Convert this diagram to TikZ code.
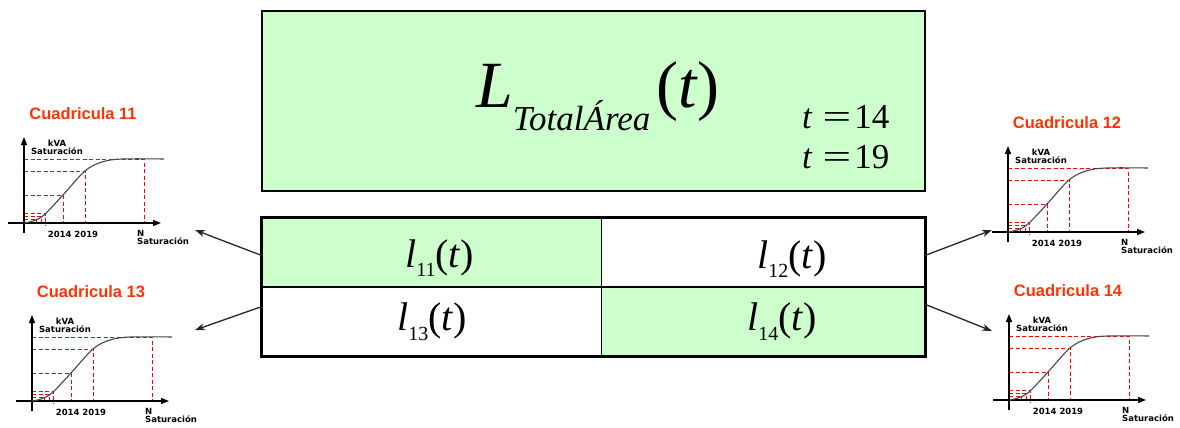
\documentclass[tikz,border=0pt]{standalone}
\usepackage{fontspec}
\usepackage{graphicx}
\setmainfont{Liberation Serif}
\newfontfamily\titlefont{Liberation Sans}
\newfontfamily\chartfont{DejaVu Sans}
\usetikzlibrary{arrows.meta}
\definecolor{cellgreen} {RGB}{204, 255, 204}
\definecolor{titlered}  {RGB}{255, 51,  0}
\definecolor{satred}    {RGB}{255, 0,   0}
\definecolor{curvegray} {RGB}{70,  70,  70}

\begin{document}
\begin{tikzpicture}[
  x=1pt, y=-1pt,
  >=Stealth,
  cell/.style={draw, line width=0.8pt, inner sep=0pt, minimum height=69pt},
  link/.style={-{Stealth[length=10pt, width=7pt]}, line width=1.3pt, black!85},
  axis/.style={-{Triangle[length=8pt, width=6pt]}, line width=1.4pt},
  satline/.style={draw=satred, line width=1pt, dash pattern=on 4pt off 2.5pt},
  curve/.style={curvegray, line width=1.1pt},
  charttitle/.style={text=titlered, inner sep=0pt,
    font={\titlefont\bfseries\fontsize{16.5}{16.5}\selectfont}},
  chartlabel/.style={inner sep=0pt, align=center,
    font={\chartfont\bfseries\fontsize{8.5}{8}\selectfont}},
]

%% ─── 座標 ───────────────────────────────────────────────
%%  1 unidad = 1 px, y hacia abajo, lienzo 1180 x 428
\useasboundingbox (0,0) rectangle (1180,428);

% ── Caja superior: L_{TotalÁrea}(t) ──────────────────────
\node[draw, line width=2.5pt, fill=cellgreen, inner sep=0pt,
  minimum width=663pt, minimum height=180pt] (total) at (593.5,101) {};
\node[anchor=base west, inner sep=0pt] (ltotal) at (476,107)
  {{\fontsize{66}{66}\selectfont\itshape L}%
   \raisebox{-23pt}{\fontsize{35}{35}\selectfont\itshape TotalÁrea}%
   \hspace{6pt}{\fontsize{66}{66}\selectfont(\textit{t})}};
\node[anchor=base west, inner sep=0pt, font=\fontsize{35}{35}\selectfont]
  (t14) at (802,128) {\textit{t}\hspace{10pt}\scalebox{1.45}[1]{=}\hspace{3pt}14};
\node[anchor=base west, inner sep=0pt, font=\fontsize{35}{35}\selectfont]
  (t19) at (802,168) {\textit{t}\hspace{10pt}\scalebox{1.45}[1]{=}\hspace{3pt}19};

% ── Tabla de cuadriculas ──────────────────────────────────
\node[cell, fill=cellgreen, minimum width=339pt] (c11) at (431.5,252.5) {};
\node[cell, fill=white,     minimum width=324pt] (c12) at (763,252.5)   {};
\node[cell, fill=white,     minimum width=339pt] (c13) at (431.5,321.5) {};
\node[cell, fill=cellgreen, minimum width=324pt] (c14) at (763,321.5)   {};
\draw[line width=2pt] (c11.south west) -- (c12.south east);
\draw[line width=2.5pt] (c11.north west) rectangle (c14.south east);

\node[anchor=base west, inner sep=0pt] (l11) at (405,267)
  {{\fontsize{40}{40}\selectfont\itshape l}\raisebox{-9pt}{\fontsize{20}{20}\selectfont 11}{\fontsize{40}{40}\selectfont(\textit{t})}};
\node[anchor=base west, inner sep=0pt] (l12) at (757,268)
  {{\fontsize{40}{40}\selectfont\itshape l}\raisebox{-9pt}{\fontsize{20}{20}\selectfont 12}{\fontsize{40}{40}\selectfont(\textit{t})}};
\node[anchor=base west, inner sep=0pt] (l13) at (397,330)
  {{\fontsize{40}{40}\selectfont\itshape l}\raisebox{-10pt}{\fontsize{20}{20}\selectfont 13}{\fontsize{40}{40}\selectfont(\textit{t})}};
\node[anchor=base west, inner sep=0pt] (l14) at (747,330)
  {{\fontsize{40}{40}\selectfont\itshape l}\raisebox{-10pt}{\fontsize{20}{20}\selectfont 14}{\fontsize{40}{40}\selectfont(\textit{t})}};

% ── Flechas hacia las curvas ──────────────────────────────
\coordinate (tip11) at (195,230);
\coordinate (tip13) at (195,330);
\coordinate (tip12) at (992,230);
\coordinate (tip14) at (992,331);
\draw[link] (c11.181) -- (tip11);
\draw[link] (c13.175) -- (tip13);
\draw[link] (c12.359) -- (tip12);
\draw[link] (c14.6)   -- (tip14);

% ── Curvas de saturación (una por cuadricula) ────────────
\foreach \ox/\oy/\num in {24/223/11, 1008/232/12, 32/401/13, 1009/400/14}{
  \begin{scope}[shift={(\ox,\oy)}]
    % líneas de referencia
    \draw[satline] (0,-64) -- (120,-64) -- (120,0);
    \draw[satline] (0,-52) -- (61,-52) -- (61,0);
    \draw[satline] (0,-28) -- (39,-28) -- (39,0);
    \draw[satline] (0,-10) -- (21,-10) -- (21,2);
    \draw[satline] (0,-7) -- (17,-7) -- (17,2);
    \draw[satline] (0,-4) -- (12,-4) -- (12,2);
    % ejes
    \draw[axis] (-16,0) -- (137,0);
    \draw[axis] (0,10) -- (0,-86);
    % curva S
    \draw[curve] plot[smooth, tension=0.55] coordinates
      {(0,0) (9,-2) (20,-8) (39,-28) (61,-52) (78,-61) (98,-64) (140,-64)};
    \node[charttitle] (titulo\num) at (59,-109) {Cuadricula \num};
    \node[chartlabel] (kva\num) at (33,-76) {kVA\\Saturación};
    \node[chartlabel] (anios\num) at (49,11) {2014 2019};
    \node[chartlabel, align=left, anchor=north west] (nsat\num) at (113,7)
      {N\\Saturación};
  \end{scope}
}

\end{tikzpicture}
\end{document}
